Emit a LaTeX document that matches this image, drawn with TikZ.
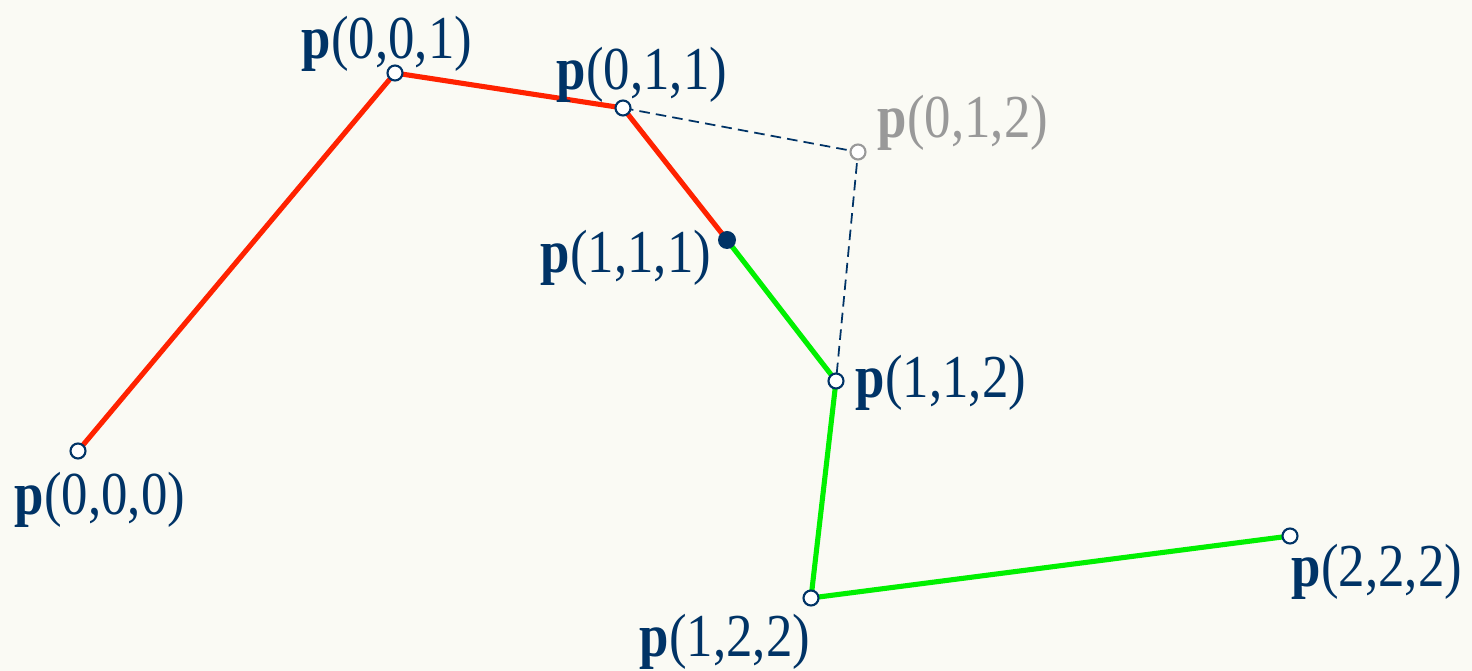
\documentclass[tikz,border=0pt]{standalone}
\usepackage{fontspec}
\setmainfont{Liberation Serif}
\definecolor{navy}{RGB}{0,51,102}
\definecolor{segred}{RGB}{255,34,0}
\definecolor{seggreen}{RGB}{0,240,0}
\definecolor{ghost}{RGB}{153,153,153}
\definecolor{paper}{RGB}{250,250,244}

\begin{document}
\begin{tikzpicture}[
  x=0.02cm, y=-0.02cm,
  font=\fontsize{31}{36}\selectfont,
  vtx/.style={circle, draw=navy, fill=white, line width=1.2pt, inner sep=0pt, minimum size=0.3cm},
  dot/.style={circle, fill=navy, inner sep=0pt, minimum size=0.36cm},
  lbl/.style={text=navy, anchor=base, inner sep=0pt, transform shape, xscale=0.97, yscale=1.12},
  seg/.style={line width=2.9pt, line join=round},
  guide/.style={navy, line width=1pt, dash pattern=on 6pt off 3.5pt}
]
\fill[paper] (0,0) rectangle (1472,671);
\useasboundingbox (0,0) rectangle (1472,671);

\coordinate (p000) at (78,451);
\coordinate (p001) at (395,73);
\coordinate (p011) at (623,108);
\coordinate (p012) at (858,152);
\coordinate (p111) at (727,240);
\coordinate (p112) at (836,381);
\coordinate (p122) at (811,598);
\coordinate (p222) at (1290,536);

% guides to the skipped point
\draw[guide] (p011) -- (p012) -- (p112);

\draw[seg, segred] (p000) -- (p001) -- (p011) -- (p111);
\draw[seg, seggreen] (p111) -- (p112) -- (p122) -- (p222);

\node[vtx] (v000) at (p000) {};
\node[vtx] (v001) at (p001) {};
\node[vtx] (v011) at (p011) {};
\node[vtx, draw=ghost] (v012) at (p012) {};
\node[dot] (v111) at (p111) {};
\node[vtx] (v112) at (p112) {};
\node[vtx] (v122) at (p122) {};
\node[vtx] (v222) at (p222) {};

\node[lbl] (l000) at (100,515) {\textbf{p}(0,0,0)};
\node[lbl] (l001) at (387,59) {\textbf{p}(0,0,1)};
\node[lbl] (l011) at (642,90) {\textbf{p}(0,1,1)};
\node[lbl, text=ghost] (l012) at (963,138) {\textbf{p}(0,1,2)};
\node[lbl] (l111) at (626,273) {\textbf{p}(1,1,1)};
\node[lbl] (l112) at (941,398) {\textbf{p}(1,1,2)};
\node[lbl] (l122) at (725,657) {\textbf{p}(1,2,2)};
\node[lbl] (l222) at (1377,587) {\textbf{p}(2,2,2)};
\end{tikzpicture}
\end{document}
